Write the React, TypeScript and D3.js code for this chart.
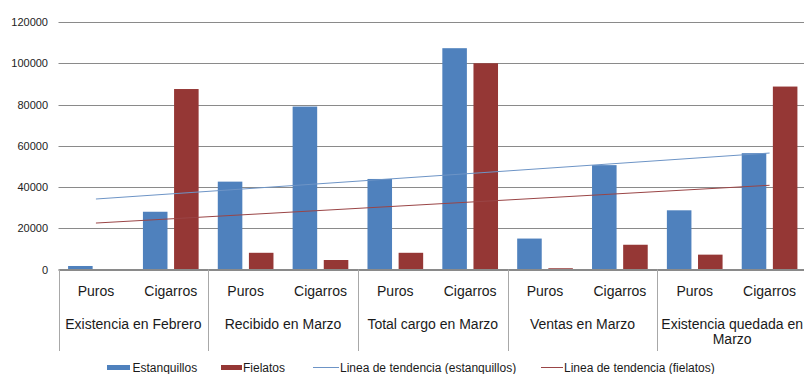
import React from "react";
import * as d3 from "d3";

const groups = [
  "Existencia en Febrero",
  "Recibido en Marzo",
  "Total cargo en Marzo",
  "Ventas en Marzo",
  "Existencia quedada en Marzo",
];
const groupLabelLines = [
  ["Existencia en Febrero"],
  ["Recibido en Marzo"],
  ["Total cargo en Marzo"],
  ["Ventas en Marzo"],
  ["Existencia quedada en", "Marzo"],
];
const products = ["Puros", "Cigarros"];
const estanquillos = [1700, 28000, 42600, 79000, 43900, 107300, 15000, 50600, 28700, 56400];
const fielatos = [0, 87500, 8100, 4600, 8100, 100000, 600, 12000, 7200, 88700];
const yTicks = [0, 20000, 40000, 60000, 80000, 100000, 120000];

const W = 805;
const H = 374;
const left = 58.5;
const right = 807;
const gridRight = 804;
const top = 22;
const bottom = 269.5;

const BLUE = "#4f81bd";
const RED = "#953735";
const BLUE_TREND = "#6d94c6";
const RED_TREND = "#9a4546";
const FONT = "'Liberation Sans', Arial, sans-serif";

// Least-squares linear fit over x = 1..n
function linearFit(values: number[]) {
  const n = values.length;
  const xs = values.map((_, i) => i + 1);
  const mx = d3.mean(xs) as number;
  const my = d3.mean(values) as number;
  let sxy = 0;
  let sxx = 0;
  xs.forEach((x, i) => {
    sxy += (x - mx) * (values[i] - my);
    sxx += (x - mx) * (x - mx);
  });
  const slope = sxy / sxx;
  const intercept = my - slope * mx;
  return (x: number) => intercept + slope * x;
}

export default function App() {
  const slots = d3.range(groups.length * products.length);
  const x = d3.scaleBand<number>().domain(slots).range([left, right]).padding(0);
  const xg = d3.scaleBand<string>().domain(groups).range([left, right]).padding(0);
  const y = d3.scaleLinear().domain([0, 120000]).range([bottom, top]);
  const bw = x.bandwidth();
  const barW = bw * 0.328;
  const gap = bw * 0.088;

  const center = (i: number) => (x(i) as number) + bw / 2;

  const fitE = linearFit(estanquillos);
  const fitF = linearFit(fielatos);
  const trendE = d3.line<number>().x((i) => center(i)).y((i) => y(fitE(i + 1)));
  const trendF = d3.line<number>().x((i) => center(i)).y((i) => y(fitF(i + 1)));
  const ends = [0, slots.length - 1];

  const separators = groups.map((g) => xg(g) as number);

  return (
    <svg
      width={W}
      height={H}
      style={{ position: "absolute", left: 0, top: 0, background: "#fff" }}
      fontFamily={FONT}
    >
      {/* horizontal gridlines and value axis labels */}
      {yTicks.map((t) => (
        <g key={t}>
          <line
            x1={left}
            x2={gridRight}
            y1={Math.round(y(t)) + 0.5}
            y2={Math.round(y(t)) + 0.5}
            stroke="#8a8a8a"
            strokeWidth={1}
          />
          <text x={48} y={y(t) + 4} fontSize={11} textAnchor="end" fill="#222">
            {t}
          </text>
        </g>
      ))}

      {/* bars */}
      {slots.map((i) => (
        <g key={i}>
          <rect
            x={center(i) - gap / 2 - barW}
            y={y(estanquillos[i])}
            width={barW}
            height={bottom - y(estanquillos[i])}
            fill={BLUE}
          />
          <rect
            x={center(i) + gap / 2}
            y={y(fielatos[i])}
            width={barW}
            height={bottom - y(fielatos[i])}
            fill={RED}
          />
        </g>
      ))}

      {/* trend lines */}
      <path d={trendE(ends) as string} fill="none" stroke={BLUE_TREND} strokeWidth={1} />
      <path d={trendF(ends) as string} fill="none" stroke={RED_TREND} strokeWidth={1} />

      {/* category axis */}
      <line x1={left} x2={gridRight} y1={269.5} y2={269.5} stroke="#8a8a8a" />
      {separators.map((sx, i) => (
        <line
          key={i}
          x1={Math.round(sx) + 0.5}
          x2={Math.round(sx) + 0.5}
          y1={269.5}
          y2={351}
          stroke="#a8a8a8"
        />
      ))}
      {slots.map((i) => (
        <text
          key={i}
          x={center(i)}
          y={296}
          fontSize={14}
          textAnchor="middle"
          fill="#1a1a1a"
        >
          {products[i % products.length]}
        </text>
      ))}
      {groups.map((g, gi) => (
        <text
          key={g}
          x={(xg(g) as number) + xg.bandwidth() / 2}
          y={328.5}
          fontSize={14}
          textAnchor="middle"
          fill="#1a1a1a"
        >
          {groupLabelLines[gi].map((ln, li) => (
            <tspan key={li} x={(xg(g) as number) + xg.bandwidth() / 2} dy={li === 0 ? 0 : 15}>
              {ln}
            </tspan>
          ))}
        </text>
      ))}

      {/* legend */}
      <g fontSize={12} fill="#1a1a1a">
        <rect x={107} y={365} width={23} height={5} fill={BLUE} />
        <text x={132.5} y={371.5}>Estanquillos</text>
        <rect x={221} y={365} width={21} height={5} fill={RED} />
        <text x={243} y={371.5}>Fielatos</text>
        <line x1={313} x2={339} y1={367.5} y2={367.5} stroke={BLUE_TREND} />
        <text x={340} y={371.5}>Linea de tendencia (estanquillos)</text>
        <line x1={541} x2={563} y1={367.5} y2={367.5} stroke={RED_TREND} />
        <text x={564} y={371.5}>Linea de tendencia (fielatos)</text>
      </g>
    </svg>
  );
}
